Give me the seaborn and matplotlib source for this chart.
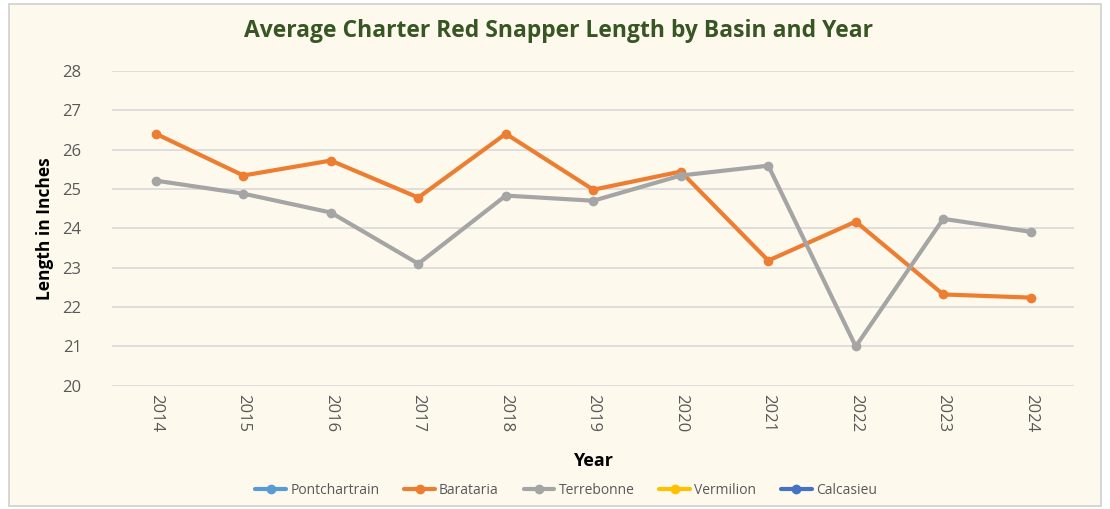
import pandas as pd
import numpy as np
import matplotlib.pyplot as plt
import seaborn as sns
from matplotlib.lines import Line2D
from matplotlib.patches import Rectangle

# --------------------------
# DATA
# --------------------------
years = ["2014", "2015", "2016", "2017", "2018", "2019", "2020", "2021", "2022", "2023", "2024"]
basins = ["Pontchartrain", "Barataria", "Terrebonne", "Vermilion", "Calcasieu"]
colors = ["#5B9BD5", "#ED7D31", "#A5A5A5", "#FFC000", "#4472C4"]

barataria = [26.40, 25.34, 25.72, 24.78, 26.40, 24.98, 25.44, 23.18, 24.17, 22.32, 22.24]
terrebonne = [25.21, 24.88, 24.40, 23.10, 24.83, 24.70, 25.34, 25.59, 21.00, 24.24, 23.91]

df = pd.concat([
    pd.DataFrame({"Year": years, "Length": barataria, "Basin": "Barataria"}),
    pd.DataFrame({"Year": years, "Length": terrebonne, "Basin": "Terrebonne"}),
])
df["x"] = df["Year"].map({y: i for i, y in enumerate(years)})

# --------------------------
# PLOT
# --------------------------
sns.set_style("white")
plt.rcParams["font.family"] = ["Open Sans", "DejaVu Sans"]

bg = "#FEF9ED"
fig = plt.figure(figsize=(11.1, 5.09), dpi=100, facecolor="white")
fig.patches.append(Rectangle((0.008, 0.006), 0.984, 0.986, transform=fig.transFigure,
                             facecolor=bg, edgecolor="#D0D0D0", linewidth=1.2, zorder=-1))
ax = fig.add_axes([0.101, 0.242, 0.867, 0.619])
ax.set_facecolor(bg)

palette = dict(zip(basins, colors))
sns.lineplot(data=df, x="x", y="Length", hue="Basin", palette=palette,
             marker="o", markersize=7, markeredgewidth=0, linewidth=3,
             legend=False, ax=ax)

ax.set_xlim(-0.5, len(years) - 0.5)
ax.set_ylim(20, 28)
ax.set_yticks(range(20, 29))
ax.set_xticks(range(len(years)))
ax.set_xticklabels(years, rotation=270, color="#595959", fontsize=12)
ax.tick_params(axis="y", colors="#595959", labelsize=12, length=0, pad=22)
ax.tick_params(axis="x", length=0, pad=6)
ax.grid(axis="y", color="#D9D9D9", linewidth=1.2)
for s in ax.spines.values():
    s.set_visible(False)

ax.set_xlabel("Year", fontsize=13, fontweight="bold", color="black", labelpad=14)
ax.set_ylabel("Length in Inches", fontsize=12.5, fontweight="bold", color="black", labelpad=6)

fig.text(0.503, 0.94, "Average Charter Red Snapper Length by Basin and Year",
         ha="center", va="center", fontsize=16.5, fontweight="bold", color="#375623")

handles = [Line2D([], [], color=c, marker="o", markersize=6, linewidth=3) for c in colors]
fig.legend(handles, basins, loc="center", bbox_to_anchor=(0.51, 0.037), ncol=5,
           frameon=False, fontsize=10, labelcolor="#595959", handlelength=2.2,
           handletextpad=0.3, columnspacing=1.8)

plt.savefig("out.png", dpi=100, facecolor="white")
